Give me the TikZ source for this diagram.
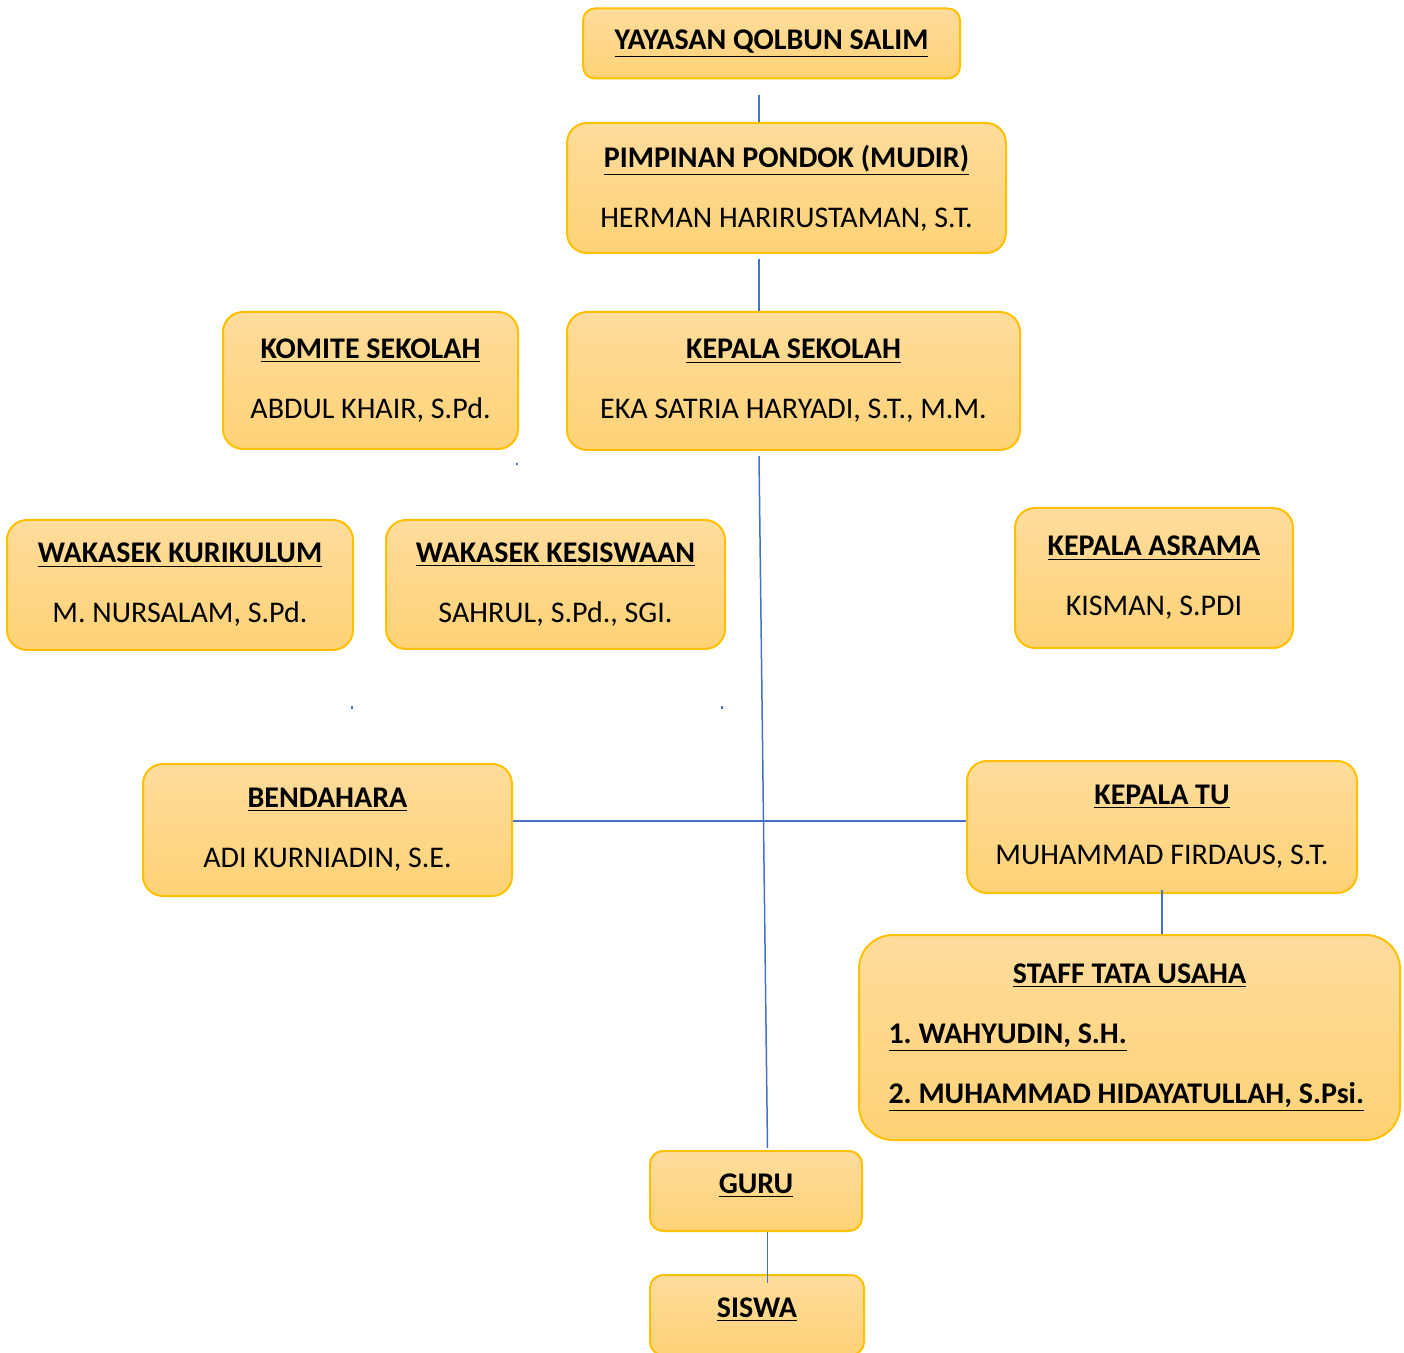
\documentclass[tikz,border=0pt]{standalone}
\usepackage{fontspec}
\setmainfont{Carlito}
\usepackage{tikz}
\usetikzlibrary{calc}
\definecolor{boxgold}{RGB}{255,192,0}
\definecolor{boxtop}{RGB}{254,220,156}
\definecolor{boxbot}{RGB}{255,210,118}
\definecolor{linkblue}{RGB}{68,114,196}
\newcommand{\ttl}[1]{\textbf{\underline{#1}}}
\frenchspacing

\begin{document}
\begin{tikzpicture}[
    x=0.5pt, y=-0.5pt,
    org/.style={draw=boxgold, line width=1pt, top color=boxtop, bottom color=boxbot,
                rounded corners=#1, align=center, inner sep=0pt,
                font=\fontsize{15}{30}\selectfont},
    org/.default=10pt,
    link/.style={draw=linkblue, line width=0.75pt}
]
    \useasboundingbox (0,0) rectangle (1404,1353);
    % boxes
    \node[org=6pt, minimum width=188.5pt, minimum height=35pt] (yys) at (771.5,43.5) {\ttl{YAYASAN QOLBUN SALIM}};
    \node[org, minimum width=219.5pt, minimum height=65pt] (mudir) at (786.5,188) {\ttl{PIMPINAN PONDOK (MUDIR)}\\HERMAN HARIRUSTAMAN, S.T.};
    \node[org, minimum width=147.5pt, minimum height=68.5pt] (komite) at (370.5,380.5) {\ttl{KOMITE SEKOLAH}\\ABDUL KHAIR, S.Pd.};
    \node[org, minimum width=226.5pt, minimum height=69pt] (kepsek) at (793.5,381) {\ttl{KEPALA SEKOLAH}\\EKA SATRIA HARYADI, S.T., M.M.};
    \node[org, minimum width=173pt, minimum height=65pt] (kurikulum) at (180,585) {\ttl{WAKASEK KURIKULUM}\\M. NURSALAM, S.Pd.};
    \node[org, minimum width=169.5pt, minimum height=64.5pt] (kesiswaan) at (555.5,584.5) {\ttl{WAKASEK KESISWAAN}\\SAHRUL, S.Pd., SGI.};
    \node[org, minimum width=139pt, minimum height=70pt] (asrama) at (1154,578) {\ttl{KEPALA ASRAMA}\\KISMAN, S.PDI};
    \node[org, minimum width=184.5pt, minimum height=66pt] (bend) at (327.5,830) {\ttl{BENDAHARA}\\ADI KURNIADIN, S.E.};
    \node[org, minimum width=195pt, minimum height=66pt] (tu) at (1162,827) {\ttl{KEPALA TU}\\MUHAMMAD FIRDAUS, S.T.};
    \node[org=17pt, minimum width=270.5pt, minimum height=102.5pt] (staff) at (1129.5,1037.5)
        {\makebox[241pt][c]{\ttl{STAFF TATA USAHA}}\\
         \makebox[241pt][l]{\ttl{1. WAHYUDIN, S.H.}}\\
         \makebox[241pt][l]{\ttl{2. MUHAMMAD HIDAYATULLAH, S.Psi.}}};
    \node[org=6.5pt, minimum width=106pt, minimum height=40pt, text depth=7pt] (guru) at (756,1191) {\ttl{GURU}};
    \node[org=6.5pt, minimum width=107pt, minimum height=40pt, text depth=7pt] (siswa) at (757,1315) {\ttl{SISWA}};

    % connectors
    \coordinate (spine) at (759,0);
    \coordinate (gx) at (767.5,0);
    \draw[link] ([yshift=-8pt]yys.south -| spine) -- (mudir.north -| spine);
    \draw[link] ([yshift=-2.5pt]mudir.south -| spine) -- (kepsek.north -| spine);
    \draw[link] ([yshift=-2.5pt]kepsek.south -| spine) -- ([yshift=1pt]guru.north -| gx);
    \draw[link] (guru.south -| gx) -- ([yshift=-4.5pt]siswa.north -| gx);
    \draw[link] ([yshift=4.5pt]bend.east) coordinate (h) -- (h -| tu.west);
    \draw[link] ([yshift=2pt]tu.south) -- (staff.north -| tu.south);

    % stray marks
    \foreach \p in {(516,463),(351,706),(721,706)}
        \fill[linkblue] \p rectangle ++(1.5,2.5);
\end{tikzpicture}
\end{document}
